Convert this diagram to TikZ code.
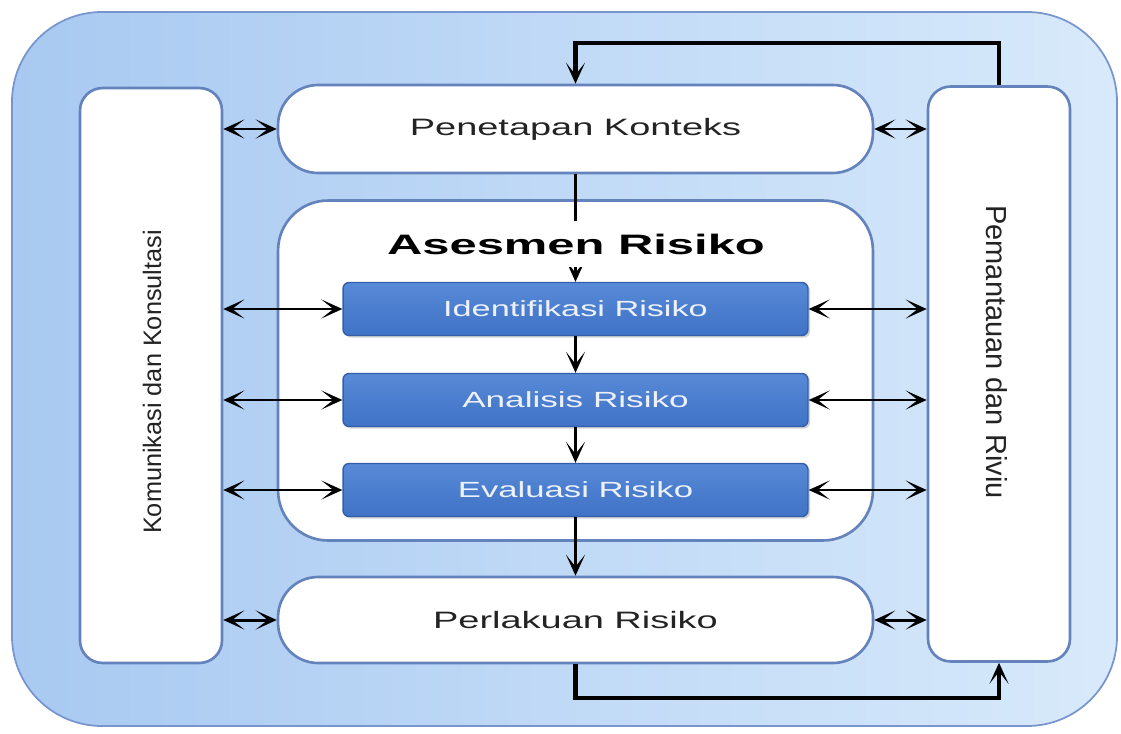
\documentclass[tikz,border=0pt]{standalone}
\usepackage{fontspec}
\usepackage{graphicx}
\usepackage{tikz}
\usepackage{xcolor}
\setmainfont{Liberation Sans}
\usetikzlibrary{arrows.meta, shadows}

\definecolor{bgleft}{RGB}{168,201,241}
\definecolor{bgright}{RGB}{216,234,251}
\definecolor{bgedge}{RGB}{120,150,205}
\definecolor{boxedge}{RGB}{100,130,188}
\definecolor{risktop}{RGB}{88,138,216}
\definecolor{riskbot}{RGB}{64,114,198}
\definecolor{riskedge}{RGB}{50,95,170}
\definecolor{risktext}{RGB}{236,241,250}
\definecolor{txtgray}{RGB}{35,35,35}

\newcommand{\widetxt}[2]{\scalebox{#1}[1]{#2}}

\begin{document}
\begin{tikzpicture}
    [
        x=0.02cm, y=-0.02cm,
        >={Stealth[length=4.2mm, width=3.8mm, inset=2.4mm]},
        sidebox/.style={draw=boxedge, line width=1.5pt, fill=white, rounded corners=0.45cm,
            minimum width=2.84cm, minimum height=11.5cm},
        stagebox/.style={draw=boxedge, line width=1.5pt, fill=white, rounded corners=0.8cm,
            minimum width=11.9cm, text=txtgray, font=\fontsize{13.5}{15}\selectfont},
        riskbox/.style={draw=riskedge, line width=0.8pt, top color=risktop, bottom color=riskbot,
            rounded corners=0.12cm, minimum width=9.3cm, minimum height=1.06cm,
            text=risktext, font=\fontsize{12.5}{14}\selectfont,
            drop shadow={opacity=0.35, shadow xshift=1.2pt, shadow yshift=-1.2pt}},
        link/.style={<->, line width=1.7pt},
        flow/.style={->, line width=2pt},
        loopline/.style={->, line width=2.5pt}
    ]
    \useasboundingbox (0,0) rectangle (1121,733);
    \fill[left color=bgleft, right color=bgright, rounded corners=1.8cm] (12,12) rectangle (1117,726);
    \draw[bgedge, line width=1pt, rounded corners=1.8cm] (12,12) rectangle (1117,726);

    \node[sidebox] (kom) at (151,375.5) {};
    \node[sidebox] (pem) at (999,374) {};
    \node[stagebox, minimum height=1.76cm] (ctx) at (575.5,129) {\widetxt{1.6}{Penetapan Konteks}};
    \node[stagebox, minimum height=6.8cm, rounded corners=1cm] (ases) at (575.5,370.5) {};
    \node[stagebox, minimum height=1.72cm] (treat) at (575.5,620) {\widetxt{1.6}{Perlakuan Risiko}};

    \node[rotate=90, text=txtgray, font=\fontsize{14.4}{16}\selectfont] (komtxt) at (152,382) {Komunikasi dan Konsultasi};
    \node[rotate=-90, text=txtgray, font=\fontsize{16.5}{18}\selectfont] (pemtxt) at (997,352) {Pemantauan dan Riviu};

    \node[riskbox] (ident) at (575.5,309) {\widetxt{1.56}{Identifikasi Risiko}};
    \node[riskbox] (anal) at (575.5,400) {\widetxt{1.6}{Analisis Risiko}};
    \node[riskbox] (eval) at (575.5,490) {\widetxt{1.58}{Evaluasi Risiko}};

    \draw[flow] (ctx.south) -- (ident.north);
    \draw[flow] (ident.south) -- (anal.north);
    \draw[flow] (anal.south) -- (eval.north);
    \draw[flow] (eval.south) -- (treat.north);

    \node[anchor=base, fill=white, inner ysep=7pt, inner xsep=2pt,
        font=\bfseries\fontsize{16}{18}\selectfont] (asestitle) at (576,254) {\widetxt{1.74}{Asesmen Risiko}};

    \draw[link] (kom.east |- ctx.west) -- (ctx.west);
    \draw[link] (ctx.east) -- (ctx.east -| pem.west);
    \draw[link] (kom.east |- treat.west) -- (treat.west);
    \draw[link] (treat.east) -- (treat.east -| pem.west);
    \foreach \row in {ident, anal, eval}
    {
        \draw[link] (kom.east |- \row.west) -- (\row.west);
        \draw[link] (\row.east) -- (\row.east -| pem.west);
    }

    \coordinate (fbtop) at (1000,43);
    \coordinate (fbbot) at (1000,698);
    \draw[loopline] (pem.north) -- (pem.north |- fbtop) -| (ctx.north);
    \draw[loopline] (treat.south) -- (treat.south |- fbbot) -| (pem.south);
\end{tikzpicture}
\end{document}
